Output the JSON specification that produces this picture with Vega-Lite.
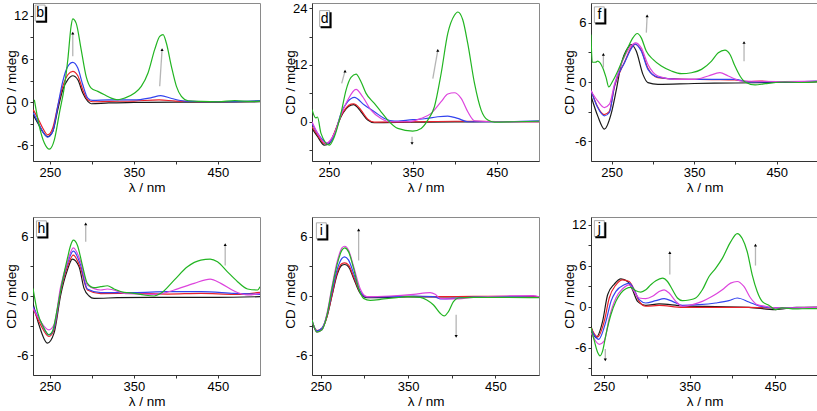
{
"$schema": "https://vega.github.io/schema/vega-lite/v6.json",
"padding": {"left": 3, "top": 1, "right": 0, "bottom": 0},
"spacing": 22,
"datasets": {
"cd": [
{"p":"b","s":"k","x":230.4,"y":-1.8},{"p":"b","s":"k","x":235.6,"y":-2.9},{"p":"b","s":"k","x":241.5,"y":-4.1},{"p":"b","s":"k","x":247.5,"y":-4.8},{"p":"b","s":"k","x":253.5,"y":-4.1},{"p":"b","s":"k","x":259.4,"y":-1.07},{"p":"b","s":"k","x":265.4,"y":1.72},{"p":"b","s":"k","x":271.4,"y":3.12},{"p":"b","s":"k","x":277.3,"y":3.67},{"p":"b","s":"k","x":283.3,"y":3.12},{"p":"b","s":"k","x":289.2,"y":1.26},{"p":"b","s":"k","x":295.2,"y":0.09},{"p":"b","s":"k","x":299.2,"y":-0.23},{"p":"b","s":"k","x":320,"y":-0.1},{"p":"b","s":"k","x":350,"y":-0.05},{"p":"b","s":"k","x":400,"y":0},{"p":"b","s":"k","x":450,"y":0},{"p":"b","s":"k","x":500,"y":0.05},
{"p":"b","s":"r","x":230.4,"y":-1.07},{"p":"b","s":"r","x":235.6,"y":-2.2},{"p":"b","s":"r","x":241.5,"y":-3.6},{"p":"b","s":"r","x":247.5,"y":-4.56},{"p":"b","s":"r","x":253.5,"y":-3.6},{"p":"b","s":"r","x":259.4,"y":-0.6},{"p":"b","s":"r","x":265.4,"y":2.19},{"p":"b","s":"r","x":271.4,"y":3.81},{"p":"b","s":"r","x":277.3,"y":4.28},{"p":"b","s":"r","x":283.3,"y":3.67},{"p":"b","s":"r","x":289.2,"y":1.72},{"p":"b","s":"r","x":295.2,"y":0.33},{"p":"b","s":"r","x":301,"y":0.05},{"p":"b","s":"r","x":320,"y":0.1},{"p":"b","s":"r","x":350,"y":0.15},{"p":"b","s":"r","x":380,"y":0.3},{"p":"b","s":"r","x":400,"y":0.15},{"p":"b","s":"r","x":450,"y":0.05},{"p":"b","s":"r","x":500,"y":0.1},
{"p":"b","s":"b","x":230.4,"y":-1.5},{"p":"b","s":"b","x":235.6,"y":-2.7},{"p":"b","s":"b","x":241.5,"y":-4.1},{"p":"b","s":"b","x":247.5,"y":-4.88},{"p":"b","s":"b","x":253.5,"y":-4.1},{"p":"b","s":"b","x":259.4,"y":-0.6},{"p":"b","s":"b","x":265.4,"y":2.88},{"p":"b","s":"b","x":271.4,"y":4.98},{"p":"b","s":"b","x":277.3,"y":5.53},{"p":"b","s":"b","x":283.3,"y":4.74},{"p":"b","s":"b","x":289.2,"y":2.42},{"p":"b","s":"b","x":295.2,"y":0.56},{"p":"b","s":"b","x":301,"y":0.23},{"p":"b","s":"b","x":320,"y":0.3},{"p":"b","s":"b","x":350,"y":0.3},{"p":"b","s":"b","x":370,"y":0.6},{"p":"b","s":"b","x":382,"y":0.9},{"p":"b","s":"b","x":395,"y":0.5},{"p":"b","s":"b","x":410,"y":0.15},{"p":"b","s":"b","x":450,"y":0.05},{"p":"b","s":"b","x":500,"y":0.2},
{"p":"b","s":"g","x":231.6,"y":0.33},{"p":"b","s":"g","x":237.6,"y":-3.4},{"p":"b","s":"g","x":243.5,"y":-5.7},{"p":"b","s":"g","x":249.5,"y":-6.56},{"p":"b","s":"g","x":255.4,"y":-5.26},{"p":"b","s":"g","x":261.4,"y":-1.53},{"p":"b","s":"g","x":267.4,"y":2.19},{"p":"b","s":"g","x":271.4,"y":5.9},{"p":"b","s":"g","x":275.3,"y":10.56},{"p":"b","s":"g","x":277.3,"y":11.58},{"p":"b","s":"g","x":281.3,"y":11.0},{"p":"b","s":"g","x":287.3,"y":7.3},{"p":"b","s":"g","x":293.2,"y":3.58},{"p":"b","s":"g","x":299.2,"y":1.95},{"p":"b","s":"g","x":307.1,"y":1.49},{"p":"b","s":"g","x":315.1,"y":1.02},{"p":"b","s":"g","x":323,"y":0.56},{"p":"b","s":"g","x":331,"y":0.33},{"p":"b","s":"g","x":339,"y":0.56},{"p":"b","s":"g","x":350.9,"y":1.26},{"p":"b","s":"g","x":358.8,"y":2.19},{"p":"b","s":"g","x":366.8,"y":4.05},{"p":"b","s":"g","x":374.7,"y":7.3},{"p":"b","s":"g","x":380.7,"y":9.16},{"p":"b","s":"g","x":384.7,"y":9.4},{"p":"b","s":"g","x":388.6,"y":8.23},{"p":"b","s":"g","x":394.6,"y":4.98},{"p":"b","s":"g","x":400.6,"y":2.19},{"p":"b","s":"g","x":406.5,"y":0.79},{"p":"b","s":"g","x":414.5,"y":0.19},{"p":"b","s":"g","x":430,"y":0.1},{"p":"b","s":"g","x":450,"y":0.05},{"p":"b","s":"g","x":470,"y":0.2},{"p":"b","s":"g","x":490,"y":0.1},{"p":"b","s":"g","x":500,"y":0.15},

{"p":"d","s":"k","x":230,"y":-1.41},{"p":"d","s":"k","x":236.7,"y":-3.17},{"p":"d","s":"k","x":244.7,"y":-4.93},{"p":"d","s":"k","x":250.6,"y":-4.58},{"p":"d","s":"k","x":256.6,"y":-2.46},{"p":"d","s":"k","x":264.5,"y":1.06},{"p":"d","s":"k","x":276.4,"y":3.52},{"p":"d","s":"k","x":279.5,"y":3.6},{"p":"d","s":"k","x":282.4,"y":3.31},{"p":"d","s":"k","x":288.3,"y":2.11},{"p":"d","s":"k","x":296.3,"y":0.35},{"p":"d","s":"k","x":304.2,"y":-0.21},{"p":"d","s":"k","x":350,"y":-0.1},{"p":"d","s":"k","x":400,"y":-0.05},{"p":"d","s":"k","x":450,"y":0},{"p":"d","s":"k","x":500,"y":0},
{"p":"d","s":"r","x":230,"y":-1.06},{"p":"d","s":"r","x":236.7,"y":-2.82},{"p":"d","s":"r","x":244.7,"y":-4.58},{"p":"d","s":"r","x":250.6,"y":-4.44},{"p":"d","s":"r","x":256.6,"y":-2.32},{"p":"d","s":"r","x":264.5,"y":1.2},{"p":"d","s":"r","x":276.4,"y":3.73},{"p":"d","s":"r","x":279.5,"y":3.8},{"p":"d","s":"r","x":282.4,"y":3.59},{"p":"d","s":"r","x":288.3,"y":2.46},{"p":"d","s":"r","x":296.3,"y":0.56},{"p":"d","s":"r","x":304.2,"y":-0.07},{"p":"d","s":"r","x":350,"y":0},{"p":"d","s":"r","x":400,"y":0.1},{"p":"d","s":"r","x":450,"y":0.05},{"p":"d","s":"r","x":500,"y":0},
{"p":"d","s":"b","x":230,"y":-0.35},{"p":"d","s":"b","x":236.7,"y":-2.46},{"p":"d","s":"b","x":248.7,"y":-4.58},{"p":"d","s":"b","x":256.6,"y":-2.82},{"p":"d","s":"b","x":264.5,"y":1.76},{"p":"d","s":"b","x":272.5,"y":4.23},{"p":"d","s":"b","x":280.4,"y":5.14},{"p":"d","s":"b","x":292.3,"y":3.52},{"p":"d","s":"b","x":304.2,"y":2.11},{"p":"d","s":"b","x":316.1,"y":0.7},{"p":"d","s":"b","x":328,"y":0.14},{"p":"d","s":"b","x":343.9,"y":0.35},{"p":"d","s":"b","x":363.7,"y":0.63},{"p":"d","s":"b","x":379.6,"y":1.06},{"p":"d","s":"b","x":391.5,"y":1.2},{"p":"d","s":"b","x":403.4,"y":0.7},{"p":"d","s":"b","x":415.3,"y":0},{"p":"d","s":"b","x":450,"y":0},{"p":"d","s":"b","x":500,"y":0.2},
{"p":"d","s":"m","x":230,"y":0},{"p":"d","s":"m","x":236.7,"y":-2.46},{"p":"d","s":"m","x":246.7,"y":-4.58},{"p":"d","s":"m","x":256.6,"y":-2.46},{"p":"d","s":"m","x":264.5,"y":1.41},{"p":"d","s":"m","x":272.5,"y":4.58},{"p":"d","s":"m","x":282.4,"y":6.83},{"p":"d","s":"m","x":290.3,"y":5.28},{"p":"d","s":"m","x":300.2,"y":2.46},{"p":"d","s":"m","x":312.1,"y":0.7},{"p":"d","s":"m","x":324,"y":0},{"p":"d","s":"m","x":343.9,"y":0},{"p":"d","s":"m","x":359.8,"y":0.7},{"p":"d","s":"m","x":371.7,"y":1.76},{"p":"d","s":"m","x":383.6,"y":4.23},{"p":"d","s":"m","x":391.5,"y":5.85},{"p":"d","s":"m","x":399.4,"y":6.13},{"p":"d","s":"m","x":407.4,"y":4.93},{"p":"d","s":"m","x":415.3,"y":2.11},{"p":"d","s":"m","x":423.3,"y":0.21},{"p":"d","s":"m","x":450,"y":0},{"p":"d","s":"m","x":500,"y":0},
{"p":"d","s":"g","x":230,"y":2.6},{"p":"d","s":"g","x":234.4,"y":0.8},{"p":"d","s":"g","x":236.5,"y":1.0},{"p":"d","s":"g","x":240.7,"y":-2.46},{"p":"d","s":"g","x":250.6,"y":-4.93},{"p":"d","s":"g","x":256.6,"y":-3.17},{"p":"d","s":"g","x":264.5,"y":1.76},{"p":"d","s":"g","x":270.5,"y":6.69},{"p":"d","s":"g","x":276.4,"y":9.37},{"p":"d","s":"g","x":282.4,"y":10.07},{"p":"d","s":"g","x":288.3,"y":8.45},{"p":"d","s":"g","x":294.3,"y":5.99},{"p":"d","s":"g","x":304.2,"y":3.87},{"p":"d","s":"g","x":312.1,"y":2.11},{"p":"d","s":"g","x":320.1,"y":0.35},{"p":"d","s":"g","x":332,"y":-1.41},{"p":"d","s":"g","x":349.8,"y":-1.97},{"p":"d","s":"g","x":359.8,"y":-1.41},{"p":"d","s":"g","x":367.7,"y":0.35},{"p":"d","s":"g","x":375.6,"y":3.17},{"p":"d","s":"g","x":383.6,"y":10.2},{"p":"d","s":"g","x":391.5,"y":18.66},{"p":"d","s":"g","x":399.4,"y":22.5},{"p":"d","s":"g","x":403.4,"y":23.2},{"p":"d","s":"g","x":409.4,"y":21.5},{"p":"d","s":"g","x":415.3,"y":16.5},{"p":"d","s":"g","x":423.3,"y":8.1},{"p":"d","s":"g","x":431.2,"y":2.46},{"p":"d","s":"g","x":439.1,"y":0.35},{"p":"d","s":"g","x":447.1,"y":-0.07},{"p":"d","s":"g","x":470,"y":0},{"p":"d","s":"g","x":500,"y":0.1},

{"p":"f","s":"k","x":225,"y":-1.41},{"p":"f","s":"k","x":233.1,"y":-3.43},{"p":"f","s":"k","x":241.2,"y":-4.77},{"p":"f","s":"k","x":249.3,"y":-3.26},{"p":"f","s":"k","x":255.4,"y":-0.91},{"p":"f","s":"k","x":261.5,"y":1.78},{"p":"f","s":"k","x":269.6,"y":3.46},{"p":"f","s":"k","x":273.7,"y":3.8},{"p":"f","s":"k","x":279.8,"y":3.13},{"p":"f","s":"k","x":287.9,"y":0.77},{"p":"f","s":"k","x":294,"y":-0.07},{"p":"f","s":"k","x":306.1,"y":-0.24},{"p":"f","s":"k","x":350,"y":-0.15},{"p":"f","s":"k","x":400,"y":-0.1},{"p":"f","s":"k","x":450,"y":-0.05},{"p":"f","s":"k","x":500,"y":0},
{"p":"f","s":"r","x":225,"y":-0.8},{"p":"f","s":"r","x":233,"y":-2.5},{"p":"f","s":"r","x":241,"y":-3.3},{"p":"f","s":"r","x":247,"y":-3.0},{"p":"f","s":"r","x":253.4,"y":-0.5},{"p":"f","s":"r","x":265.6,"y":2.0},{"p":"f","s":"r","x":275.7,"y":3.7},{"p":"f","s":"r","x":278.5,"y":3.8},{"p":"f","s":"r","x":286,"y":3.2},{"p":"f","s":"r","x":294,"y":1.4},{"p":"f","s":"r","x":306,"y":0.45},{"p":"f","s":"r","x":334,"y":0.3},{"p":"f","s":"r","x":375,"y":0.25},{"p":"f","s":"r","x":399,"y":0.2},{"p":"f","s":"r","x":416,"y":0.05},{"p":"f","s":"r","x":430,"y":0.1},{"p":"f","s":"r","x":450,"y":0},{"p":"f","s":"r","x":500,"y":0.05},
{"p":"f","s":"b","x":225,"y":-0.84},{"p":"f","s":"b","x":233.1,"y":-2.59},{"p":"f","s":"b","x":241.2,"y":-3.43},{"p":"f","s":"b","x":247.3,"y":-3.09},{"p":"f","s":"b","x":253.4,"y":-0.4},{"p":"f","s":"b","x":265.6,"y":1.95},{"p":"f","s":"b","x":275.7,"y":3.63},{"p":"f","s":"b","x":278.5,"y":3.87},{"p":"f","s":"b","x":285.9,"y":3.13},{"p":"f","s":"b","x":294,"y":1.28},{"p":"f","s":"b","x":306.1,"y":0.5},{"p":"f","s":"b","x":334.5,"y":0.27},{"p":"f","s":"b","x":375.1,"y":0.27},{"p":"f","s":"b","x":399.4,"y":0.27},{"p":"f","s":"b","x":415.7,"y":0},{"p":"f","s":"b","x":450,"y":0},{"p":"f","s":"b","x":500,"y":0.1},
{"p":"f","s":"m","x":225,"y":-0.91},{"p":"f","s":"m","x":233.1,"y":-1.92},{"p":"f","s":"m","x":241.2,"y":-2.59},{"p":"f","s":"m","x":247.3,"y":-2.25},{"p":"f","s":"m","x":253.4,"y":-0.24},{"p":"f","s":"m","x":261.5,"y":1.78},{"p":"f","s":"m","x":271.7,"y":3.46},{"p":"f","s":"m","x":279,"y":3.97},{"p":"f","s":"m","x":285.9,"y":3.46},{"p":"f","s":"m","x":294,"y":1.78},{"p":"f","s":"m","x":306.1,"y":0.61},{"p":"f","s":"m","x":326.4,"y":0.27},{"p":"f","s":"m","x":350.8,"y":0.27},{"p":"f","s":"m","x":367,"y":0.61},{"p":"f","s":"m","x":381.2,"y":0.94},{"p":"f","s":"m","x":391.3,"y":0.61},{"p":"f","s":"m","x":407.6,"y":0.1},{"p":"f","s":"m","x":450,"y":0.05},{"p":"f","s":"m","x":500,"y":0.1},
{"p":"f","s":"g","x":225,"y":4.8},{"p":"f","s":"g","x":226.5,"y":2.0},{"p":"f","s":"g","x":231.1,"y":2.02},{"p":"f","s":"g","x":233.1,"y":2.12},{"p":"f","s":"g","x":239.2,"y":1.45},{"p":"f","s":"g","x":243.3,"y":0.44},{"p":"f","s":"g","x":246.5,"y":-0.5},{"p":"f","s":"g","x":251.4,"y":0.1},{"p":"f","s":"g","x":257.5,"y":1.11},{"p":"f","s":"g","x":263.5,"y":2.29},{"p":"f","s":"g","x":269.6,"y":3.46},{"p":"f","s":"g","x":275.7,"y":4.47},{"p":"f","s":"g","x":281,"y":4.91},{"p":"f","s":"g","x":285.9,"y":4.47},{"p":"f","s":"g","x":291.9,"y":3.13},{"p":"f","s":"g","x":300.1,"y":2.29},{"p":"f","s":"g","x":310.2,"y":1.61},{"p":"f","s":"g","x":322.4,"y":1.11},{"p":"f","s":"g","x":334.5,"y":0.84},{"p":"f","s":"g","x":346.7,"y":0.94},{"p":"f","s":"g","x":358.9,"y":1.28},{"p":"f","s":"g","x":371,"y":2.12},{"p":"f","s":"g","x":379.2,"y":2.96},{"p":"f","s":"g","x":387.3,"y":3.23},{"p":"f","s":"g","x":393.4,"y":2.79},{"p":"f","s":"g","x":399.4,"y":1.61},{"p":"f","s":"g","x":405.5,"y":0.61},{"p":"f","s":"g","x":411.6,"y":0},{"p":"f","s":"g","x":423.8,"y":-0.3},{"p":"f","s":"g","x":436,"y":-0.17},{"p":"f","s":"g","x":460,"y":0},{"p":"f","s":"g","x":480,"y":-0.05},{"p":"f","s":"g","x":500,"y":0.05},

{"p":"h","s":"k","x":230,"y":-0.74},{"p":"h","s":"k","x":237.1,"y":-2.92},{"p":"h","s":"k","x":247.1,"y":-4.77},{"p":"h","s":"k","x":255,"y":-3.76},{"p":"h","s":"k","x":262.9,"y":0.1},{"p":"h","s":"k","x":270.9,"y":2.62},{"p":"h","s":"k","x":276.8,"y":3.73},{"p":"h","s":"k","x":284.8,"y":2.96},{"p":"h","s":"k","x":290.7,"y":0.77},{"p":"h","s":"k","x":296.7,"y":0},{"p":"h","s":"k","x":302.6,"y":-0.24},{"p":"h","s":"k","x":330.4,"y":-0.17},{"p":"h","s":"k","x":370.1,"y":-0.13},{"p":"h","s":"k","x":409.8,"y":-0.13},{"p":"h","s":"k","x":449.4,"y":-0.13},{"p":"h","s":"k","x":500,"y":-0.07},
{"p":"h","s":"r","x":230,"y":-1.24},{"p":"h","s":"r","x":239.1,"y":-2.92},{"p":"h","s":"r","x":249,"y":-4.1},{"p":"h","s":"r","x":255,"y":-3.43},{"p":"h","s":"r","x":262.9,"y":0.44},{"p":"h","s":"r","x":270.9,"y":2.96},{"p":"h","s":"r","x":278,"y":4.13},{"p":"h","s":"r","x":286.7,"y":2.79},{"p":"h","s":"r","x":294.7,"y":0.61},{"p":"h","s":"r","x":310.6,"y":0.24},{"p":"h","s":"r","x":350,"y":0.27},{"p":"h","s":"r","x":390,"y":0.2},{"p":"h","s":"r","x":430,"y":0.27},{"p":"h","s":"r","x":470,"y":0.17},{"p":"h","s":"r","x":500,"y":0.37},
{"p":"h","s":"b","x":230,"y":-1.08},{"p":"h","s":"b","x":239.1,"y":-2.59},{"p":"h","s":"b","x":249,"y":-3.93},{"p":"h","s":"b","x":255,"y":-3.26},{"p":"h","s":"b","x":262.9,"y":0.61},{"p":"h","s":"b","x":270.9,"y":3.29},{"p":"h","s":"b","x":278,"y":4.54},{"p":"h","s":"b","x":286.7,"y":3.13},{"p":"h","s":"b","x":294.7,"y":0.71},{"p":"h","s":"b","x":310.6,"y":0.34},{"p":"h","s":"b","x":350,"y":0.34},{"p":"h","s":"b","x":390,"y":0.44},{"p":"h","s":"b","x":430,"y":0.44},{"p":"h","s":"b","x":469.3,"y":0.27},{"p":"h","s":"b","x":500,"y":0.17},
{"p":"h","s":"m","x":230,"y":-1.24},{"p":"h","s":"m","x":239.1,"y":-2.59},{"p":"h","s":"m","x":249,"y":-3.43},{"p":"h","s":"m","x":255,"y":-2.92},{"p":"h","s":"m","x":262.9,"y":0.94},{"p":"h","s":"m","x":270.9,"y":3.46},{"p":"h","s":"m","x":278,"y":4.87},{"p":"h","s":"m","x":286.7,"y":3.46},{"p":"h","s":"m","x":294.7,"y":1.11},{"p":"h","s":"m","x":310.6,"y":0.61},{"p":"h","s":"m","x":318.5,"y":0.71},{"p":"h","s":"m","x":342.3,"y":0.24},{"p":"h","s":"m","x":378,"y":0.17},{"p":"h","s":"m","x":397.9,"y":0.61},{"p":"h","s":"m","x":421.7,"y":1.28},{"p":"h","s":"m","x":440.7,"y":1.71},{"p":"h","s":"m","x":453.4,"y":1.28},{"p":"h","s":"m","x":469.3,"y":0.5},{"p":"h","s":"m","x":485.2,"y":0.1},{"p":"h","s":"m","x":500,"y":0.27},
{"p":"h","s":"g","x":230,"y":0.77},{"p":"h","s":"g","x":235.2,"y":-1.58},{"p":"h","s":"g","x":243.1,"y":-3.26},{"p":"h","s":"g","x":249,"y":-3.93},{"p":"h","s":"g","x":253,"y":-3.6},{"p":"h","s":"g","x":259,"y":-1.24},{"p":"h","s":"g","x":264.9,"y":1.45},{"p":"h","s":"g","x":270.9,"y":3.8},{"p":"h","s":"g","x":274.8,"y":5.14},{"p":"h","s":"g","x":278,"y":5.65},{"p":"h","s":"g","x":282.8,"y":5.14},{"p":"h","s":"g","x":288.7,"y":3.13},{"p":"h","s":"g","x":294.7,"y":1.28},{"p":"h","s":"g","x":302.6,"y":0.84},{"p":"h","s":"g","x":310.6,"y":0.94},{"p":"h","s":"g","x":318.5,"y":1.04},{"p":"h","s":"g","x":326.4,"y":0.71},{"p":"h","s":"g","x":338.3,"y":0.37},{"p":"h","s":"g","x":350.2,"y":0.27},{"p":"h","s":"g","x":362.1,"y":0.1},{"p":"h","s":"g","x":374,"y":0},{"p":"h","s":"g","x":382,"y":0.27},{"p":"h","s":"g","x":397.9,"y":1.61},{"p":"h","s":"g","x":413.7,"y":2.96},{"p":"h","s":"g","x":429.6,"y":3.63},{"p":"h","s":"g","x":440.7,"y":3.73},{"p":"h","s":"g","x":449.4,"y":3.46},{"p":"h","s":"g","x":461.3,"y":2.45},{"p":"h","s":"g","x":473.3,"y":1.45},{"p":"h","s":"g","x":485.2,"y":0.71},{"p":"h","s":"g","x":497.1,"y":0.61},{"p":"h","s":"g","x":500,"y":0.94},

{"p":"i","s":"k","x":240,"y":-2.59},{"p":"i","s":"k","x":245.7,"y":-3.6},{"p":"i","s":"k","x":251.4,"y":-3.36},{"p":"i","s":"k","x":257.2,"y":-2.08},{"p":"i","s":"k","x":262.9,"y":0.03},{"p":"i","s":"k","x":268.6,"y":2.12},{"p":"i","s":"k","x":274.3,"y":3.13},{"p":"i","s":"k","x":277.4,"y":3.19},{"p":"i","s":"k","x":281.9,"y":2.96},{"p":"i","s":"k","x":287.7,"y":1.78},{"p":"i","s":"k","x":295.3,"y":0.27},{"p":"i","s":"k","x":302.9,"y":-0.17},{"p":"i","s":"k","x":350,"y":-0.1},{"p":"i","s":"k","x":400,"y":-0.1},{"p":"i","s":"k","x":450,"y":-0.1},{"p":"i","s":"k","x":500,"y":-0.1},
{"p":"i","s":"r","x":240,"y":-2.59},{"p":"i","s":"r","x":245.7,"y":-3.5},{"p":"i","s":"r","x":251.4,"y":-3.26},{"p":"i","s":"r","x":257.2,"y":-2.08},{"p":"i","s":"r","x":262.9,"y":0.1},{"p":"i","s":"r","x":268.6,"y":2.29},{"p":"i","s":"r","x":274.3,"y":3.29},{"p":"i","s":"r","x":277.4,"y":3.36},{"p":"i","s":"r","x":281.9,"y":3.13},{"p":"i","s":"r","x":287.7,"y":1.95},{"p":"i","s":"r","x":295.3,"y":0.37},{"p":"i","s":"r","x":302.9,"y":-0.07},{"p":"i","s":"r","x":348.7,"y":-0.03},{"p":"i","s":"r","x":386.8,"y":-0.07},{"p":"i","s":"r","x":424.9,"y":-0.03},{"p":"i","s":"r","x":463,"y":-0.03},{"p":"i","s":"r","x":500,"y":-0.07},
{"p":"i","s":"b","x":240,"y":-2.52},{"p":"i","s":"b","x":245.7,"y":-3.53},{"p":"i","s":"b","x":251.4,"y":-3.26},{"p":"i","s":"b","x":257.2,"y":-1.92},{"p":"i","s":"b","x":262.9,"y":0.44},{"p":"i","s":"b","x":268.6,"y":2.62},{"p":"i","s":"b","x":274.3,"y":3.8},{"p":"i","s":"b","x":277.4,"y":3.97},{"p":"i","s":"b","x":281.9,"y":3.63},{"p":"i","s":"b","x":287.7,"y":2.29},{"p":"i","s":"b","x":295.3,"y":0.44},{"p":"i","s":"b","x":302.9,"y":-0.1},{"p":"i","s":"b","x":329.6,"y":-0.07},{"p":"i","s":"b","x":356.3,"y":0},{"p":"i","s":"b","x":379.2,"y":-0.07},{"p":"i","s":"b","x":388.7,"y":-0.3},{"p":"i","s":"b","x":402,"y":-0.24},{"p":"i","s":"b","x":424.9,"y":-0.1},{"p":"i","s":"b","x":463,"y":-0.07},{"p":"i","s":"b","x":500,"y":-0.13},
{"p":"i","s":"m","x":240,"y":-2.42},{"p":"i","s":"m","x":245.7,"y":-3.66},{"p":"i","s":"m","x":251.4,"y":-3.43},{"p":"i","s":"m","x":257.2,"y":-1.75},{"p":"i","s":"m","x":262.9,"y":0.94},{"p":"i","s":"m","x":268.6,"y":3.39},{"p":"i","s":"m","x":274.3,"y":4.87},{"p":"i","s":"m","x":277.4,"y":5.04},{"p":"i","s":"m","x":281.9,"y":4.64},{"p":"i","s":"m","x":287.7,"y":2.96},{"p":"i","s":"m","x":295.3,"y":0.71},{"p":"i","s":"m","x":302.9,"y":-0.07},{"p":"i","s":"m","x":329.6,"y":0},{"p":"i","s":"m","x":356.3,"y":0.17},{"p":"i","s":"m","x":375.3,"y":0.34},{"p":"i","s":"m","x":381.1,"y":0.17},{"p":"i","s":"m","x":386.8,"y":-0.24},{"p":"i","s":"m","x":402,"y":-0.3},{"p":"i","s":"m","x":424.9,"y":-0.13},{"p":"i","s":"m","x":463,"y":0},{"p":"i","s":"m","x":493.5,"y":0.03},{"p":"i","s":"m","x":500,"y":-0.1},
{"p":"i","s":"g","x":240,"y":-2.42},{"p":"i","s":"g","x":245.7,"y":-3.66},{"p":"i","s":"g","x":251.4,"y":-3.43},{"p":"i","s":"g","x":257.2,"y":-1.92},{"p":"i","s":"g","x":262.9,"y":0.77},{"p":"i","s":"g","x":268.6,"y":3.13},{"p":"i","s":"g","x":274.3,"y":4.64},{"p":"i","s":"g","x":277.4,"y":4.87},{"p":"i","s":"g","x":281.9,"y":4.47},{"p":"i","s":"g","x":287.7,"y":2.79},{"p":"i","s":"g","x":293.4,"y":0.77},{"p":"i","s":"g","x":299.1,"y":-0.24},{"p":"i","s":"g","x":306.7,"y":-0.44},{"p":"i","s":"g","x":322,"y":-0.3},{"p":"i","s":"g","x":337.2,"y":-0.17},{"p":"i","s":"g","x":348.7,"y":-0.07},{"p":"i","s":"g","x":363.9,"y":-0.13},{"p":"i","s":"g","x":371.5,"y":-0.4},{"p":"i","s":"g","x":379.2,"y":-0.91},{"p":"i","s":"g","x":386.8,"y":-1.75},{"p":"i","s":"g","x":391.4,"y":-2.02},{"p":"i","s":"g","x":396.3,"y":-1.58},{"p":"i","s":"g","x":402,"y":-0.57},{"p":"i","s":"g","x":407.7,"y":-0.2},{"p":"i","s":"g","x":424.9,"y":-0.13},{"p":"i","s":"g","x":463,"y":-0.13},{"p":"i","s":"g","x":500,"y":-0.17},

{"p":"j","s":"k","x":235,"y":-2.85},{"p":"j","s":"k","x":240.8,"y":-4.54},{"p":"j","s":"k","x":248.6,"y":-2.13},{"p":"j","s":"k","x":254.4,"y":1.74},{"p":"j","s":"k","x":262.2,"y":3.29},{"p":"j","s":"k","x":269.9,"y":4.06},{"p":"j","s":"k","x":277.7,"y":3.67},{"p":"j","s":"k","x":283.5,"y":2.46},{"p":"j","s":"k","x":289.3,"y":0.77},{"p":"j","s":"k","x":299,"y":0.19},{"p":"j","s":"k","x":314.5,"y":0.39},{"p":"j","s":"k","x":341.7,"y":0.1},{"p":"j","s":"k","x":380.5,"y":0},{"p":"j","s":"k","x":419.3,"y":-0.1},{"p":"j","s":"k","x":450.4,"y":-0.43},{"p":"j","s":"k","x":475,"y":-0.1},{"p":"j","s":"k","x":500,"y":-0.1},
{"p":"j","s":"r","x":235,"y":-3.09},{"p":"j","s":"r","x":242.8,"y":-4.44},{"p":"j","s":"r","x":250.5,"y":-2.13},{"p":"j","s":"r","x":256.3,"y":1.26},{"p":"j","s":"r","x":264.1,"y":3.19},{"p":"j","s":"r","x":271.9,"y":3.91},{"p":"j","s":"r","x":279.6,"y":3.67},{"p":"j","s":"r","x":285.4,"y":2.46},{"p":"j","s":"r","x":291.3,"y":0.77},{"p":"j","s":"r","x":299,"y":0.05},{"p":"j","s":"r","x":314.5,"y":0.19},{"p":"j","s":"r","x":341.7,"y":-0.1},{"p":"j","s":"r","x":380.5,"y":-0.1},{"p":"j","s":"r","x":419.3,"y":-0.1},{"p":"j","s":"r","x":450.4,"y":-0.19},{"p":"j","s":"r","x":500,"y":-0.1},
{"p":"j","s":"b","x":235,"y":-3.33},{"p":"j","s":"b","x":243.9,"y":-4.78},{"p":"j","s":"b","x":252.5,"y":-2.13},{"p":"j","s":"b","x":258.3,"y":0.77},{"p":"j","s":"b","x":264.1,"y":2.22},{"p":"j","s":"b","x":273.8,"y":3.19},{"p":"j","s":"b","x":279.6,"y":3.43},{"p":"j","s":"b","x":285.4,"y":2.46},{"p":"j","s":"b","x":291.3,"y":1.01},{"p":"j","s":"b","x":299,"y":0.53},{"p":"j","s":"b","x":310.7,"y":0.87},{"p":"j","s":"b","x":320.4,"y":1.16},{"p":"j","s":"b","x":330.1,"y":0.77},{"p":"j","s":"b","x":341.7,"y":0.19},{"p":"j","s":"b","x":361.1,"y":0.29},{"p":"j","s":"b","x":380.5,"y":0.53},{"p":"j","s":"b","x":396,"y":0.87},{"p":"j","s":"b","x":405.7,"y":1.26},{"p":"j","s":"b","x":419.3,"y":0.68},{"p":"j","s":"b","x":431,"y":0.1},{"p":"j","s":"b","x":450.4,"y":-0.19},{"p":"j","s":"b","x":500,"y":-0.1},
{"p":"j","s":"m","x":235,"y":-3.82},{"p":"j","s":"m","x":244.7,"y":-5.51},{"p":"j","s":"m","x":250.5,"y":-5.02},{"p":"j","s":"m","x":256.3,"y":-1.64},{"p":"j","s":"m","x":264.1,"y":1.26},{"p":"j","s":"m","x":271.9,"y":2.61},{"p":"j","s":"m","x":279.6,"y":3.19},{"p":"j","s":"m","x":285.4,"y":2.22},{"p":"j","s":"m","x":291.3,"y":1.26},{"p":"j","s":"m","x":299,"y":1.16},{"p":"j","s":"m","x":306.8,"y":1.5},{"p":"j","s":"m","x":314.5,"y":2.22},{"p":"j","s":"m","x":320.4,"y":2.46},{"p":"j","s":"m","x":326.2,"y":1.98},{"p":"j","s":"m","x":334,"y":0.77},{"p":"j","s":"m","x":341.7,"y":0.05},{"p":"j","s":"m","x":353.4,"y":0.29},{"p":"j","s":"m","x":365,"y":0.77},{"p":"j","s":"m","x":376.6,"y":1.5},{"p":"j","s":"m","x":388.3,"y":2.46},{"p":"j","s":"m","x":398,"y":3.43},{"p":"j","s":"m","x":405.7,"y":3.67},{"p":"j","s":"m","x":413.5,"y":2.95},{"p":"j","s":"m","x":421.3,"y":1.26},{"p":"j","s":"m","x":429,"y":0.29},{"p":"j","s":"m","x":438.7,"y":0.05},{"p":"j","s":"m","x":450.4,"y":-0.19},{"p":"j","s":"m","x":500,"y":-0.1},
{"p":"j","s":"g","x":235,"y":-3.09},{"p":"j","s":"g","x":238.9,"y":-5.02},{"p":"j","s":"g","x":242.8,"y":-6.71},{"p":"j","s":"g","x":245.5,"y":-7.2},{"p":"j","s":"g","x":248.6,"y":-6.47},{"p":"j","s":"g","x":252.5,"y":-4.06},{"p":"j","s":"g","x":258.3,"y":-1.16},{"p":"j","s":"g","x":264.1,"y":0.77},{"p":"j","s":"g","x":269.9,"y":1.98},{"p":"j","s":"g","x":275.7,"y":2.61},{"p":"j","s":"g","x":281.6,"y":2.8},{"p":"j","s":"g","x":287.4,"y":2.32},{"p":"j","s":"g","x":293.2,"y":2.13},{"p":"j","s":"g","x":299,"y":2.46},{"p":"j","s":"g","x":304.8,"y":3.19},{"p":"j","s":"g","x":310.7,"y":3.77},{"p":"j","s":"g","x":318.4,"y":4.15},{"p":"j","s":"g","x":324.3,"y":3.67},{"p":"j","s":"g","x":330.1,"y":2.46},{"p":"j","s":"g","x":335.9,"y":1.26},{"p":"j","s":"g","x":341.7,"y":0.87},{"p":"j","s":"g","x":349.5,"y":0.97},{"p":"j","s":"g","x":357.2,"y":1.26},{"p":"j","s":"g","x":365,"y":2.46},{"p":"j","s":"g","x":372.8,"y":4.4},{"p":"j","s":"g","x":380.5,"y":5.6},{"p":"j","s":"g","x":388.3,"y":7.05},{"p":"j","s":"g","x":398,"y":9.47},{"p":"j","s":"g","x":405.7,"y":10.68},{"p":"j","s":"g","x":411.6,"y":9.95},{"p":"j","s":"g","x":417.4,"y":8.02},{"p":"j","s":"g","x":423.2,"y":4.64},{"p":"j","s":"g","x":429,"y":2.22},{"p":"j","s":"g","x":434.8,"y":0.77},{"p":"j","s":"g","x":442.6,"y":0.19},{"p":"j","s":"g","x":450.4,"y":-0.43},{"p":"j","s":"g","x":458.1,"y":-0.19},{"p":"j","s":"g","x":473.6,"y":-0.34},{"p":"j","s":"g","x":489.2,"y":-0.29},{"p":"j","s":"g","x":500,"y":-0.29}
],
"arrows": [
{"p":"b","x":277.3,"y":6.4,"x2":277.3,"y2":9.6,"d":"up"},{"p":"b","x":380.7,"y":2.2,"x2":383.5,"y2":7.3,"d":"up"},
{"p":"d","x":265.3,"y":8.1,"x2":269.3,"y2":10.7,"d":"up"},{"p":"d","x":373.7,"y":9.1,"x2":379.6,"y2":15.1,"d":"up"},{"p":"d","x":349,"y":-3.2,"x2":349,"y2":-4.6,"d":"down"},
{"p":"f","x":240,"y":1.45,"x2":240,"y2":2.8,"d":"up"},{"p":"f","x":292,"y":5.0,"x2":293,"y2":6.7,"d":"up"},{"p":"f","x":410.4,"y":2.1,"x2":410.4,"y2":4.0,"d":"up"},
{"p":"h","x":292.7,"y":5.5,"x2":292.7,"y2":7.3,"d":"up"},{"p":"h","x":458.6,"y":3.1,"x2":458.6,"y2":5.2,"d":"up"},
{"p":"i","x":293.4,"y":3.6,"x2":293.4,"y2":6.7,"d":"up"},{"p":"i","x":405.1,"y":-1.9,"x2":405.1,"y2":-4.1,"d":"down"},
{"p":"j","x":251.7,"y":-6.2,"x2":251.7,"y2":-7.8,"d":"down"},{"p":"j","x":327,"y":4.7,"x2":327,"y2":7.9,"d":"up"},{"p":"j","x":427,"y":6.0,"x2":427,"y2":9.0,"d":"up"}
],
"labels": [
{"p":"b","x":238.5,"y":12.4,"t":"b"},{"p":"d","x":245,"y":21.8,"t":"d"},{"p":"f","x":235.1,"y":6.8,"t":"f"},
{"p":"h","x":240,"y":6.8,"t":"h"},{"p":"i","x":250.7,"y":6.6,"t":"i"},{"p":"j","x":244.7,"y":11.4,"t":"j"}
]
},
"vconcat": [
{"hconcat": [
{"width":227,"height":158,
 "encoding":{"x":{"field":"x","type":"quantitative","scale":{"domain":[230,500],"nice":false,"zero":false},"axis":{"values":[250,300,350,400,450],"labelExpr":"datum.value % 100 === 50 ? toString(datum.value) : ''","title":"λ / nm"}},
  "y":{"field":"y","type":"quantitative","scale":{"domain":[-8.2,13.8],"nice":false,"zero":false},"axis":{"values":[-6,-3,0,3,6,9,12],"labelExpr":"datum.value % 6 === 0 ? toString(datum.value) : ''","title":"CD / mdeg"}}},
 "layer":[
  {"data":{"name":"cd"},"transform":[{"filter":"datum.p === 'b'"}],"mark":{"type":"line","interpolate":"monotone","strokeWidth":1.2,"clip":true},"encoding":{"color":{"field":"s","type":"nominal","scale":{"domain":["k","r","b","m","g"],"range":["#1a1a1a","#e8202a","#3344ee","#dd44dd","#22b522"]},"legend":null}}},
  {"data":{"name":"arrows"},"transform":[{"filter":"datum.p === 'b'"}],"mark":{"type":"rule","color":"#b5b5b5","strokeWidth":1.3},"encoding":{"x2":{"field":"x2"},"y2":{"field":"y2"}}},
  {"data":{"name":"arrows"},"transform":[{"filter":"datum.p === 'b'"}],"mark":{"type":"point","filled":true,"color":"#000","size":10,"opacity":1},"encoding":{"x":{"field":"x2","type":"quantitative","scale":{"domain":[230,500],"nice":false,"zero":false}},"y":{"field":"y2","type":"quantitative","scale":{"domain":[-8.2,13.8],"nice":false,"zero":false}},"shape":{"field":"d","type":"nominal","scale":{"domain":["up","down"],"range":["triangle-up","triangle-down"]},"legend":null}}},
  {"data":{"name":"labels"},"transform":[{"filter":"datum.p === 'b'"}],"mark":{"type":"point","shape":"M-0.62,-1L0.62,-1L0.62,1L-0.62,1Z","size":256,"filled":true,"fill":"#fff","stroke":"#999","strokeWidth":0.8,"opacity":1}},
  {"data":{"name":"labels"},"transform":[{"filter":"datum.p === 'b'"}],"mark":{"type":"point","shape":"M0.75,-0.8L0.75,1.08L-0.5,1.08","size":256,"filled":false,"stroke":"#000","strokeWidth":2,"opacity":1}},
  {"data":{"name":"labels"},"transform":[{"filter":"datum.p === 'b'"}],"mark":{"type":"text","font":"Liberation Sans","fontSize":14,"baseline":"middle","color":"#000"},"encoding":{"text":{"field":"t"}}}
 ]},
{"width":227,"height":158,
 "encoding":{"x":{"field":"x","type":"quantitative","scale":{"domain":[230,500],"nice":false,"zero":false},"axis":{"values":[250,300,350,400,450],"labelExpr":"datum.value % 100 === 50 ? toString(datum.value) : ''","title":"λ / nm"}},
  "y":{"field":"y","type":"quantitative","scale":{"domain":[-8.3,25.1],"nice":false,"zero":false},"axis":{"values":[-6,0,6,12,18,24],"labelExpr":"datum.value % 12 === 0 ? toString(datum.value) : ''","title":"CD / mdeg"}}},
 "layer":[
  {"data":{"name":"cd"},"transform":[{"filter":"datum.p === 'd'"}],"mark":{"type":"line","interpolate":"monotone","strokeWidth":1.2,"clip":true},"encoding":{"color":{"field":"s","type":"nominal","scale":{"domain":["k","r","b","m","g"],"range":["#1a1a1a","#e8202a","#3344ee","#dd44dd","#22b522"]},"legend":null}}},
  {"data":{"name":"arrows"},"transform":[{"filter":"datum.p === 'd'"}],"mark":{"type":"rule","color":"#b5b5b5","strokeWidth":1.3},"encoding":{"x2":{"field":"x2"},"y2":{"field":"y2"}}},
  {"data":{"name":"arrows"},"transform":[{"filter":"datum.p === 'd'"}],"mark":{"type":"point","filled":true,"color":"#000","size":10,"opacity":1},"encoding":{"x":{"field":"x2","type":"quantitative","scale":{"domain":[230,500],"nice":false,"zero":false}},"y":{"field":"y2","type":"quantitative","scale":{"domain":[-8.3,25.1],"nice":false,"zero":false}},"shape":{"field":"d","type":"nominal","scale":{"domain":["up","down"],"range":["triangle-up","triangle-down"]},"legend":null}}},
  {"data":{"name":"labels"},"transform":[{"filter":"datum.p === 'd'"}],"mark":{"type":"point","shape":"M-0.62,-1L0.62,-1L0.62,1L-0.62,1Z","size":256,"filled":true,"fill":"#fff","stroke":"#999","strokeWidth":0.8,"opacity":1}},
  {"data":{"name":"labels"},"transform":[{"filter":"datum.p === 'd'"}],"mark":{"type":"point","shape":"M0.75,-0.8L0.75,1.08L-0.5,1.08","size":256,"filled":false,"stroke":"#000","strokeWidth":2,"opacity":1}},
  {"data":{"name":"labels"},"transform":[{"filter":"datum.p === 'd'"}],"mark":{"type":"text","font":"Liberation Sans","fontSize":14,"baseline":"middle","color":"#000"},"encoding":{"text":{"field":"t"}}}
 ]},
{"width":227,"height":158,
 "encoding":{"x":{"field":"x","type":"quantitative","scale":{"domain":[225,500],"nice":false,"zero":false},"axis":{"values":[250,300,350,400,450],"labelExpr":"datum.value % 100 === 50 ? toString(datum.value) : ''","title":"λ / nm"}},
  "y":{"field":"y","type":"quantitative","scale":{"domain":[-8,8],"nice":false,"zero":false},"axis":{"values":[-6,-3,0,3,6],"labelExpr":"datum.value % 6 === 0 ? toString(datum.value) : ''","title":"CD / mdeg"}}},
 "layer":[
  {"data":{"name":"cd"},"transform":[{"filter":"datum.p === 'f'"}],"mark":{"type":"line","interpolate":"monotone","strokeWidth":1.2,"clip":true},"encoding":{"color":{"field":"s","type":"nominal","scale":{"domain":["k","r","b","m","g"],"range":["#1a1a1a","#e8202a","#3344ee","#dd44dd","#22b522"]},"legend":null}}},
  {"data":{"name":"arrows"},"transform":[{"filter":"datum.p === 'f'"}],"mark":{"type":"rule","color":"#b5b5b5","strokeWidth":1.3},"encoding":{"x2":{"field":"x2"},"y2":{"field":"y2"}}},
  {"data":{"name":"arrows"},"transform":[{"filter":"datum.p === 'f'"}],"mark":{"type":"point","filled":true,"color":"#000","size":10,"opacity":1},"encoding":{"x":{"field":"x2","type":"quantitative","scale":{"domain":[225,500],"nice":false,"zero":false}},"y":{"field":"y2","type":"quantitative","scale":{"domain":[-8,8],"nice":false,"zero":false}},"shape":{"field":"d","type":"nominal","scale":{"domain":["up","down"],"range":["triangle-up","triangle-down"]},"legend":null}}},
  {"data":{"name":"labels"},"transform":[{"filter":"datum.p === 'f'"}],"mark":{"type":"point","shape":"M-0.62,-1L0.62,-1L0.62,1L-0.62,1Z","size":256,"filled":true,"fill":"#fff","stroke":"#999","strokeWidth":0.8,"opacity":1}},
  {"data":{"name":"labels"},"transform":[{"filter":"datum.p === 'f'"}],"mark":{"type":"point","shape":"M0.75,-0.8L0.75,1.08L-0.5,1.08","size":256,"filled":false,"stroke":"#000","strokeWidth":2,"opacity":1}},
  {"data":{"name":"labels"},"transform":[{"filter":"datum.p === 'f'"}],"mark":{"type":"text","font":"Liberation Sans","fontSize":14,"baseline":"middle","color":"#000"},"encoding":{"text":{"field":"t"}}}
 ]}
]},
{"hconcat": [
{"width":227,"height":158,
 "encoding":{"x":{"field":"x","type":"quantitative","scale":{"domain":[230,500],"nice":false,"zero":false},"axis":{"values":[250,300,350,400,450],"labelExpr":"datum.value % 100 === 50 ? toString(datum.value) : ''","title":"λ / nm"}},
  "y":{"field":"y","type":"quantitative","scale":{"domain":[-8,8],"nice":false,"zero":false},"axis":{"values":[-6,-3,0,3,6],"labelExpr":"datum.value % 6 === 0 ? toString(datum.value) : ''","title":"CD / mdeg"}}},
 "layer":[
  {"data":{"name":"cd"},"transform":[{"filter":"datum.p === 'h'"}],"mark":{"type":"line","interpolate":"monotone","strokeWidth":1.2,"clip":true},"encoding":{"color":{"field":"s","type":"nominal","scale":{"domain":["k","r","b","m","g"],"range":["#1a1a1a","#e8202a","#3344ee","#dd44dd","#22b522"]},"legend":null}}},
  {"data":{"name":"arrows"},"transform":[{"filter":"datum.p === 'h'"}],"mark":{"type":"rule","color":"#b5b5b5","strokeWidth":1.3},"encoding":{"x2":{"field":"x2"},"y2":{"field":"y2"}}},
  {"data":{"name":"arrows"},"transform":[{"filter":"datum.p === 'h'"}],"mark":{"type":"point","filled":true,"color":"#000","size":10,"opacity":1},"encoding":{"x":{"field":"x2","type":"quantitative","scale":{"domain":[230,500],"nice":false,"zero":false}},"y":{"field":"y2","type":"quantitative","scale":{"domain":[-8,8],"nice":false,"zero":false}},"shape":{"field":"d","type":"nominal","scale":{"domain":["up","down"],"range":["triangle-up","triangle-down"]},"legend":null}}},
  {"data":{"name":"labels"},"transform":[{"filter":"datum.p === 'h'"}],"mark":{"type":"point","shape":"M-0.62,-1L0.62,-1L0.62,1L-0.62,1Z","size":256,"filled":true,"fill":"#fff","stroke":"#999","strokeWidth":0.8,"opacity":1}},
  {"data":{"name":"labels"},"transform":[{"filter":"datum.p === 'h'"}],"mark":{"type":"point","shape":"M0.75,-0.8L0.75,1.08L-0.5,1.08","size":256,"filled":false,"stroke":"#000","strokeWidth":2,"opacity":1}},
  {"data":{"name":"labels"},"transform":[{"filter":"datum.p === 'h'"}],"mark":{"type":"text","font":"Liberation Sans","fontSize":14,"baseline":"middle","color":"#000"},"encoding":{"text":{"field":"t"}}}
 ]},
{"width":227,"height":158,
 "encoding":{"x":{"field":"x","type":"quantitative","scale":{"domain":[240,500],"nice":false,"zero":false},"axis":{"values":[250,300,350,400,450],"labelExpr":"datum.value % 100 === 50 ? toString(datum.value) : ''","title":"λ / nm"}},
  "y":{"field":"y","type":"quantitative","scale":{"domain":[-8,8],"nice":false,"zero":false},"axis":{"values":[-6,-3,0,3,6],"labelExpr":"datum.value % 6 === 0 ? toString(datum.value) : ''","title":"CD / mdeg"}}},
 "layer":[
  {"data":{"name":"cd"},"transform":[{"filter":"datum.p === 'i'"}],"mark":{"type":"line","interpolate":"monotone","strokeWidth":1.2,"clip":true},"encoding":{"color":{"field":"s","type":"nominal","scale":{"domain":["k","r","b","m","g"],"range":["#1a1a1a","#e8202a","#3344ee","#dd44dd","#22b522"]},"legend":null}}},
  {"data":{"name":"arrows"},"transform":[{"filter":"datum.p === 'i'"}],"mark":{"type":"rule","color":"#b5b5b5","strokeWidth":1.3},"encoding":{"x2":{"field":"x2"},"y2":{"field":"y2"}}},
  {"data":{"name":"arrows"},"transform":[{"filter":"datum.p === 'i'"}],"mark":{"type":"point","filled":true,"color":"#000","size":10,"opacity":1},"encoding":{"x":{"field":"x2","type":"quantitative","scale":{"domain":[240,500],"nice":false,"zero":false}},"y":{"field":"y2","type":"quantitative","scale":{"domain":[-8,8],"nice":false,"zero":false}},"shape":{"field":"d","type":"nominal","scale":{"domain":["up","down"],"range":["triangle-up","triangle-down"]},"legend":null}}},
  {"data":{"name":"labels"},"transform":[{"filter":"datum.p === 'i'"}],"mark":{"type":"point","shape":"M-0.62,-1L0.62,-1L0.62,1L-0.62,1Z","size":256,"filled":true,"fill":"#fff","stroke":"#999","strokeWidth":0.8,"opacity":1}},
  {"data":{"name":"labels"},"transform":[{"filter":"datum.p === 'i'"}],"mark":{"type":"point","shape":"M0.75,-0.8L0.75,1.08L-0.5,1.08","size":256,"filled":false,"stroke":"#000","strokeWidth":2,"opacity":1}},
  {"data":{"name":"labels"},"transform":[{"filter":"datum.p === 'i'"}],"mark":{"type":"text","font":"Liberation Sans","fontSize":14,"baseline":"middle","color":"#000"},"encoding":{"text":{"field":"t"}}}
 ]},
{"width":227,"height":158,
 "encoding":{"x":{"field":"x","type":"quantitative","scale":{"domain":[235,500],"nice":false,"zero":false},"axis":{"values":[250,300,350,400,450],"labelExpr":"datum.value % 100 === 50 ? toString(datum.value) : ''","title":"λ / nm"}},
  "y":{"field":"y","type":"quantitative","scale":{"domain":[-10,13.1],"nice":false,"zero":false},"axis":{"values":[-9,-6,-3,0,3,6,9,12],"labelExpr":"datum.value % 6 === 0 ? toString(datum.value) : ''","title":"CD / mdeg"}}},
 "layer":[
  {"data":{"name":"cd"},"transform":[{"filter":"datum.p === 'j'"}],"mark":{"type":"line","interpolate":"monotone","strokeWidth":1.2,"clip":true},"encoding":{"color":{"field":"s","type":"nominal","scale":{"domain":["k","r","b","m","g"],"range":["#1a1a1a","#e8202a","#3344ee","#dd44dd","#22b522"]},"legend":null}}},
  {"data":{"name":"arrows"},"transform":[{"filter":"datum.p === 'j'"}],"mark":{"type":"rule","color":"#b5b5b5","strokeWidth":1.3},"encoding":{"x2":{"field":"x2"},"y2":{"field":"y2"}}},
  {"data":{"name":"arrows"},"transform":[{"filter":"datum.p === 'j'"}],"mark":{"type":"point","filled":true,"color":"#000","size":10,"opacity":1},"encoding":{"x":{"field":"x2","type":"quantitative","scale":{"domain":[235,500],"nice":false,"zero":false}},"y":{"field":"y2","type":"quantitative","scale":{"domain":[-10,13.1],"nice":false,"zero":false}},"shape":{"field":"d","type":"nominal","scale":{"domain":["up","down"],"range":["triangle-up","triangle-down"]},"legend":null}}},
  {"data":{"name":"labels"},"transform":[{"filter":"datum.p === 'j'"}],"mark":{"type":"point","shape":"M-0.62,-1L0.62,-1L0.62,1L-0.62,1Z","size":256,"filled":true,"fill":"#fff","stroke":"#999","strokeWidth":0.8,"opacity":1}},
  {"data":{"name":"labels"},"transform":[{"filter":"datum.p === 'j'"}],"mark":{"type":"point","shape":"M0.75,-0.8L0.75,1.08L-0.5,1.08","size":256,"filled":false,"stroke":"#000","strokeWidth":2,"opacity":1}},
  {"data":{"name":"labels"},"transform":[{"filter":"datum.p === 'j'"}],"mark":{"type":"text","font":"Liberation Sans","fontSize":14,"baseline":"middle","color":"#000"},"encoding":{"text":{"field":"t"}}}
 ]}
]}
],
"config": {
 "concat": {"spacing": 21},
 "view": {"stroke": "#8a8a8a", "strokeWidth": 1},
 "axis": {"labelFont": "Liberation Sans", "labelFontSize": 13, "labelColor": "#000", "titleFont": "Liberation Sans", "titleFontSize": 13.5, "titleFontWeight": "normal", "titleColor": "#000", "tickColor": "#333", "domainColor": "#333", "tickSize": 3, "grid": false, "labelPadding": 2, "labelOverlap": false, "labelFlush": false},
 "axisY": {"minExtent": 14, "maxExtent": 14, "titlePadding": 1},
 "axisX": {"minExtent": 18, "maxExtent": 18, "titlePadding": 1}
}
}
